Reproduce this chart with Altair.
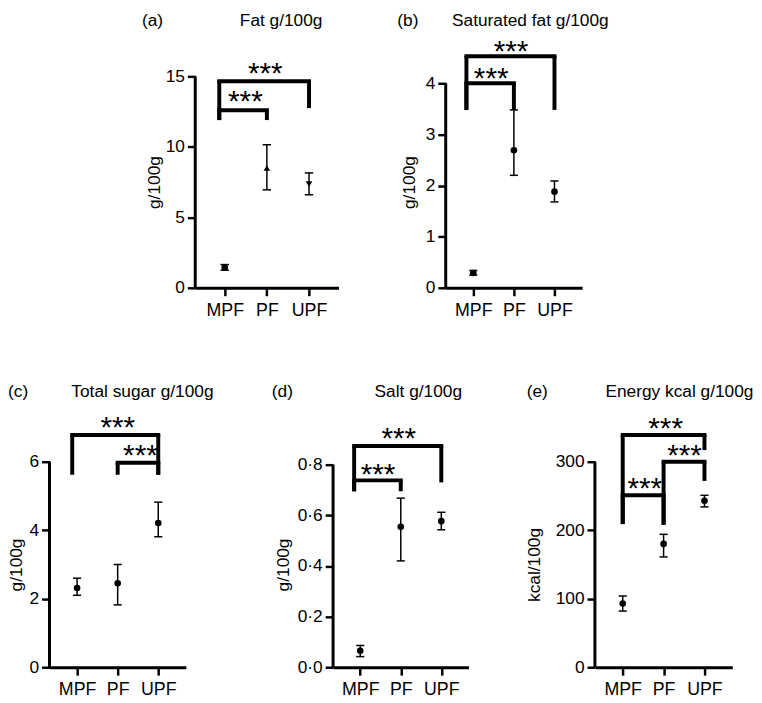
import altair as alt
import pandas as pd

groups = ["MPF", "PF", "UPF"]
gx = [0, 1, 2]

# (a) Fat
a_mean = [1.45, 8.5, 7.35]
a_lo = [1.25, 6.95, 6.6]
a_hi = [1.65, 10.15, 8.15]
a_shape = ["circle", "triangle-up", "triangle-down"]
a_ticks = [0, 5, 10, 15]
a_br_x1 = [-0.13, -0.13]
a_br_x2 = [1, 2]
a_br_bar = [12.6, 14.65]
a_br_lb = [11.9, 11.9]
a_br_rb = [11.9, 12.75]
a_st_x = [0.49, 0.96]
a_st_y = [13.7, 15.7]

# (b) Saturated fat
b_mean = [0.29, 2.69, 1.88]
b_lo = [0.25, 2.2, 1.68]
b_hi = [0.34, 3.48, 2.09]
b_ticks = [0, 1, 2, 3, 4]
b_br_x1 = [-0.17, -0.17]
b_br_x2 = [1, 2]
b_br_bar = [4.0, 4.53]
b_br_lb = [3.48, 3.48]
b_br_rb = [3.48, 3.48]
b_st_x = [0.44, 0.93]
b_st_y = [4.23, 4.77]

# (c) Total sugar
c_mean = [2.31, 2.45, 4.21]
c_lo = [2.1, 1.82, 3.81]
c_hi = [2.6, 3.0, 4.82]
c_ticks = [0, 2, 4, 6]
c_br_x1 = [-0.12, 1]
c_br_x2 = [2, 2]
c_br_bar = [6.78, 5.97]
c_br_lb = [5.62, 5.62]
c_br_rb = [5.62, 5.62]
c_st_x = [1.0, 1.56]
c_st_y = [7.21, 6.40]

# (d) Salt
d_mean = [0.065, 0.555, 0.577]
d_lo = [0.042, 0.42, 0.543]
d_hi = [0.086, 0.668, 0.612]
d_ticks = [0, 0.2, 0.4, 0.6, 0.8]
d_br_x1 = [-0.15, -0.15]
d_br_x2 = [1, 2]
d_br_bar = [0.738, 0.874]
d_br_lb = [0.695, 0.695]
d_br_rb = [0.695, 0.73]
d_st_x = [0.44, 0.95]
d_st_y = [0.792, 0.933]

# (e) Energy
e_mean = [93, 180, 243]
e_lo = [82, 161, 234]
e_hi = [104, 194, 251]
e_ticks = [0, 100, 200, 300]
e_br_x1 = [0, 1, 0]
e_br_x2 = [2, 2, 1]
e_br_bar = [339, 300, 251]
e_br_lb = [209, 208, 209]
e_br_rb = [317, 272, 208]
e_st_x = [1.05, 1.51, 0.54]
e_st_y = [359, 320, 271]

circles = ["circle", "circle", "circle"]
FONT = "Liberation Sans"
NB = "\u00a0"
label_expr_x = "[" + ",".join("'%s'" % g for g in groups) + "][datum.value]"


def make_panel(heading, ytitle, mean, lo, hi, shapes, ticks, ymax,
               br_x1, br_x2, br_bar, br_lb, br_rb, st_x, st_y, lay, ylabel_expr=None):
    xs = alt.Scale(domain=[-lay["xpad"], 2 + lay["xpad"]], nice=False, zero=False)
    ys = alt.Scale(domain=[0, ymax * lay.get("ystretch", 1.0)], nice=False, zero=True)
    xaxis = alt.Axis(values=gx, labelExpr=label_expr_x, title=None, grid=False,
                     tickSize=8, labelPadding=6, labelFontSize=18, domainWidth=3,
                     tickWidth=2.5, labelFlush=False, labelOverlap=False,
                     domainColor="black", tickColor="black", labelColor="black", labelFont=FONT)
    yargs = dict(values=ticks, title=ytitle, grid=False, tickSize=8, labelPadding=3,
                 labelFontSize=17.5, titleFontSize=17.5, titleFontWeight="normal",
                 titleX=lay["ytx"], titleY=lay["height"] / 2, titleAngle=270,
                 titleAlign="center", titleBaseline="middle", domain=False,
                 tickWidth=2.5, labelFlush=False, labelOverlap=False,
                 tickColor="black", labelColor="black", titleColor="black",
                 labelFont=FONT, titleFont=FONT)
    if ylabel_expr:
        yargs["labelExpr"] = ylabel_expr
    yaxis = alt.Axis(**yargs)

    def X(f):
        return alt.X(f, scale=xs, axis=xaxis)

    def Y(f):
        return alt.Y(f, scale=ys, axis=yaxis)

    df = pd.DataFrame({"g": gx, "mean": mean, "lo": lo, "hi": hi, "shape": shapes})
    adf = pd.DataFrame({"lo": [ticks[0]], "hi": [ticks[-1]]})
    capdf = pd.DataFrame({"g": gx + gx, "v": list(lo) + list(hi)})
    bdf = pd.DataFrame({"x1": br_x1, "x2": br_x2, "bar": br_bar})
    legdf = pd.DataFrame({"lx": list(br_x1) + list(br_x2),
                          "ltop": list(br_bar) + list(br_bar),
                          "lbot": list(br_lb) + list(br_rb)})
    sdf = pd.DataFrame({"sx": st_x, "sy": st_y, "txt": ["***"] * len(st_x)})

    yline = alt.Chart(adf).mark_rule(strokeWidth=3, color="black").encode(
        x=alt.value(0), y=Y("lo:Q"), y2="hi:Q")
    err = alt.Chart(df).mark_rule(strokeWidth=1.5, color="black").encode(
        x=X("g:Q"), y=Y("lo:Q"), y2="hi:Q")
    caps = alt.Chart(capdf).transform_calculate(
        xa="datum.g - 0.1", xb="datum.g + 0.1").mark_rule(strokeWidth=1.5, color="black").encode(
        x=X("xa:Q"), x2="xb:Q", y=Y("v:Q"))
    pts = alt.Chart(df).mark_point(filled=True, size=45, opacity=1, color="black").encode(
        x=X("g:Q"), y=Y("mean:Q"), shape=alt.Shape("shape:N", scale=None))
    bar = alt.Chart(bdf).mark_rule(strokeWidth=4, strokeCap="square", color="black").encode(
        x=X("x1:Q"), x2="x2:Q", y=Y("bar:Q"))
    legs = alt.Chart(legdf).mark_rule(strokeWidth=4, color="black").encode(
        x=X("lx:Q"), y=Y("ltop:Q"), y2="lbot:Q")
    stars = alt.Chart(sdf).mark_text(fontSize=30, baseline="middle", align="center", dy=8,
                                     font=FONT, color="black").encode(
        x=X("sx:Q"), y=Y("sy:Q"), text="txt:N")
    head = alt.Chart(pd.DataFrame({"t": [heading]})).mark_text(
        align="left", baseline="top", fontSize=17.5, font=FONT, color="black").encode(
        x=alt.value(lay["lx"]), y=alt.value(lay["hy"]), text="t:N")
    return alt.layer(yline, err, caps, pts, bar, legs, stars, head).properties(
        width=lay["width"], height=lay["height"])


pa = make_panel("(a)" + NB * 16 + "Fat g/100g", "g/100g", a_mean, a_lo, a_hi, a_shape, a_ticks, 15,
                a_br_x1, a_br_x2, a_br_bar, a_br_lb, a_br_rb, a_st_x, a_st_y,
                dict(width=145, height=214, xpad=0.7, ytx=-41, hy=-65, lx=-54))
pb = make_panel("(b)" + NB * 7 + "Saturated fat g/100g", "g/100g", b_mean, b_lo, b_hi, circles, b_ticks, 4,
                b_br_x1, b_br_x2, b_br_bar, b_br_lb, b_br_rb, b_st_x, b_st_y,
                dict(width=138, height=214, ystretch=214 / 207, xpad=0.68, ytx=-37, hy=-65, lx=-49))
pc = make_panel("(c)" + NB * 9 + "Total sugar g/100g", "g/100g", c_mean, c_lo, c_hi, circles, c_ticks, 6,
                c_br_x1, c_br_x2, c_br_bar, c_br_lb, c_br_rb, c_st_x, c_st_y,
                dict(width=138, height=208, xpad=0.68, ytx=-33, hy=-80, lx=-42))
pd_ = make_panel("(d)" + NB * 17 + "Salt g/100g", "g/100g", d_mean, d_lo, d_hi, circles, d_ticks, 0.8,
                 d_br_x1, d_br_x2, d_br_bar, d_br_lb, d_br_rb, d_st_x, d_st_y,
                 dict(width=137, height=208, ystretch=208 / 205, xpad=0.67, ytx=-50, hy=-80, lx=-62),
                 ylabel_expr="floor(datum.value) + '\u00b7' + (round(datum.value * 10) % 10)")
pe = make_panel("(e)" + NB * 12 + "Energy kcal g/100g", "kcal/100g", e_mean, e_lo, e_hi, circles, e_ticks, 300,
                e_br_x1, e_br_x2, e_br_bar, e_br_lb, e_br_rb, e_st_x, e_st_y,
                dict(width=139, height=208, xpad=0.68, ytx=-61, hy=-80, lx=-69))

spacer = alt.Chart(pd.DataFrame({"z": [0]})).mark_point(opacity=0, size=0).properties(width=33.5, height=10)

top = alt.hconcat(spacer, pa, pb, spacing=59.5)
bottom = alt.hconcat(pc, pd_, pe, spacing=58)
chart = alt.vconcat(top, bottom, spacing=64).properties(
    padding=0, background="white").configure(font=FONT).configure_view(stroke=None)

chart.save("out.html", embed_options={"renderer": "svg", "actions": False})
